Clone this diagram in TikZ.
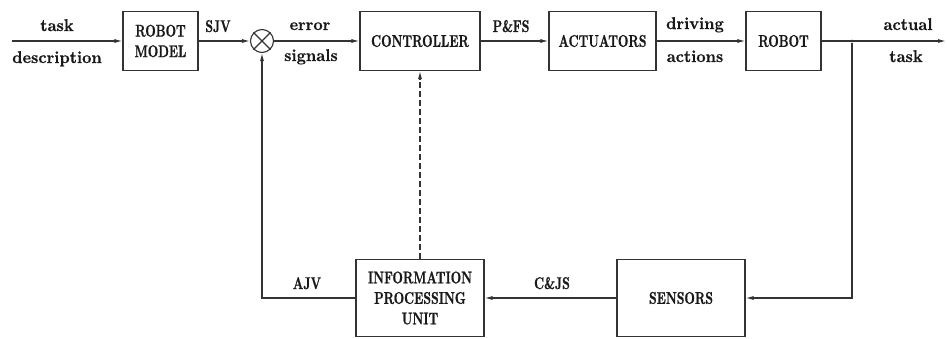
\documentclass[tikz,border=0pt]{standalone}
\usepackage{fontspec}
\usetikzlibrary{arrows.meta}
% label fonts: condensed bold capitals, slightly narrowed bold lower case
\newfontfamily\capsfam{lmroman10-bold}[Extension=.otf, FakeStretch=0.71, FakeBold=0.8]
\newfontfamily\lowfam{lmroman10-bold}[Extension=.otf, FakeStretch=0.95, FakeBold=0.5]
\newcommand\capsfont{\capsfam\fontsize{17}{20.5}\selectfont}
\newcommand\lowfont{\lowfam\fontsize{17}{20.5}\selectfont}
\begin{document}
\begin{tikzpicture}[x=1pt,y=-1pt,
  line width=1.1pt, draw=black!80,
  >={Latex[length=8pt,width=4pt]},
  block/.style={draw=black!80, line width=1.2pt, inner sep=0pt, align=center, font=\capsfont, text=black!90},
  caplbl/.style={anchor=base, inner sep=0pt, font=\capsfont, text=black!90},
  lowlbl/.style={anchor=base, inner sep=0pt, font=\lowfont, text=black!90},
  link/.style={draw=black!80, line width=1.1pt}]
\useasboundingbox (0,0) rectangle (947,338);

% forward path blocks
\node[block, minimum width=75pt, minimum height=59pt]  (rm)   at (160.5,41) {ROBOT\\MODEL};
\node[block, minimum width=120pt, minimum height=59pt] (ctrl) at (420,41)   {CONTROLLER};
\node[block, minimum width=107pt, minimum height=59pt] (act)  at (602.5,41) {ACTUATORS};
\node[block, minimum width=75pt, minimum height=59pt]  (rob)  at (783.5,41) {ROBOT};

% feedback blocks
\node[block, minimum width=128pt, minimum height=77pt] (ipu)  at (420,298)  {INFORMATION\\PROCESSING\\UNIT};
\node[block, minimum width=128pt, minimum height=77pt] (sens) at (681,298)  {SENSORS};

% summing junction
\node[draw=black!80, line width=1.1pt, circle, minimum size=23pt, inner sep=0pt] (sum) at (262,41) {};
\draw[link] (sum.north east) -- (sum.south west) (sum.north west) -- (sum.south east);

% branch point and free ends
\coordinate (in)  at (12,41);
\coordinate (out) at (946,41);
\node[circle, fill=black!80, minimum size=3pt, inner sep=0pt] (br) at (852,41) {};
\coordinate (brd) at (852,298);
\coordinate (fbc) at (262,298);

% forward connectors
\draw[link,->] (in) -- (rm.west);
\draw[link,->] (rm.east) -- (sum.west);
\draw[link,->] (sum.east) -- (ctrl.west);
\draw[link,->] (ctrl.east) -- (act.west);
\draw[link,->] (act.east) -- (rob.west);
\draw[link,->] (rob.east) -- (out);

% feedback connectors
\draw[link,->] (br) -- (brd) -- (sens.east);
\draw[link,->] (sens.west) -- (ipu.east);
\draw[link,->] (ipu.west) -- (fbc) -- (sum.south);
\draw[link,->,dash pattern=on 6pt off 3pt] (ipu.north) -- (ctrl.south);

% signal labels
\node[lowlbl] (l1) at (57,31)  {task};
\node[lowlbl] (l2) at (57,63)  {description};
\node[caplbl] (l3) at (218,32) {SJV};
\node[lowlbl] (l4) at (310,30) {error};
\node[lowlbl] (l5) at (311,61) {signals};
\node[caplbl] (l6) at (511,32) {P\&FS};
\node[lowlbl] (l7) at (695,29) {driving};
\node[lowlbl] (l8) at (695,62) {actions};
\node[lowlbl] (l9) at (908,30) {actual};
\node[lowlbl] (l10) at (906,62) {task};
\node[caplbl] (l11) at (307,289) {AJV};
\node[caplbl] (l12) at (552,289) {C\&JS};
\end{tikzpicture}
\end{document}
